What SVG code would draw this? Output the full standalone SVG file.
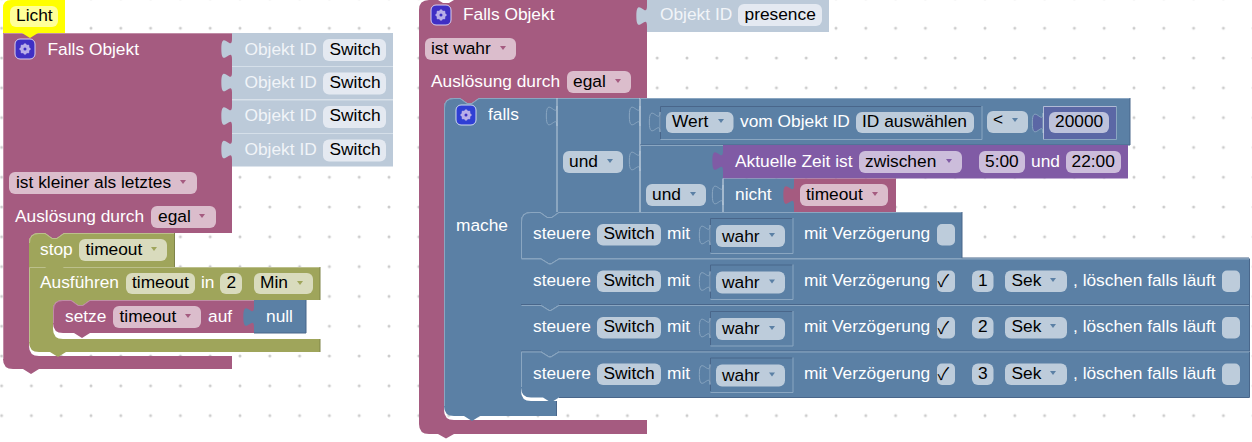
<svg xmlns="http://www.w3.org/2000/svg" width="1252" height="442" viewBox="0 0 1252 442">
<style>
text{font-family:"Liberation Sans",Arial,sans-serif;font-size:17.33px}
.w{fill:#fff}.d{fill:#000}.o{fill:#f1f4f8}
.ck{font-family:"Noto Sans CJK JP","DejaVu Sans",sans-serif;font-size:17px}
.red{fill:#a55b80}.grn{fill:#9fa55b}.blu{fill:#5b80a5}.pur{fill:#805ba5}.idx{fill:#bccad9}.num{fill:#5b67a5}
.fr{fill:#dbbdcc}.fg{fill:#d9dbbd}.fb{fill:#bdccdb}.fp{fill:#ccbddb}.fn{fill:#bdc2db}.fi{fill:#e4e9f1}.fy{fill:#ffff99}
.ar{fill:#a55b80}.ab{fill:#5b80a5}.ag{fill:#9fa55b}.ap{fill:#805ba5}
.ln{fill:none;stroke:#8aa6c1;stroke-width:1}.ll{fill:none;stroke:#d5dfe9;stroke-width:1}.dk{fill:none;stroke:#49668a;stroke-width:1}
.lr{fill:none;stroke:#c08ca6;stroke-width:1}.lg{fill:none;stroke:#bcc08c;stroke-width:1}.dg{fill:none;stroke:#7f8449;stroke-width:1}
</style>
<defs>
<pattern id="grid" width="29.8" height="29.8" patternUnits="userSpaceOnUse" x="1.6" y="-1.6"><circle cx="0" cy="0" r="1.5" fill="#ccc"/><circle cx="29.8" cy="0" r="1.5" fill="#ccc"/><circle cx="0" cy="29.8" r="1.5" fill="#ccc"/><circle cx="29.8" cy="29.8" r="1.5" fill="#ccc"/></pattern>
<path id="tab" d="M0,0c0,13.3 -10.67,-10.67 -10.67,10s10.67,-3.33 10.67,10z"/>
<path id="dn" d="M0,0l-3,-4h6z"/>
<g id="gear" transform="scale(.76)"><circle r="4.8" fill="none" stroke="#b9aee8" stroke-width="3"/><path d="M-1.4,-7.2h2.8v14.4h-2.8zM-7.2,-1.4h14.4v2.8h-14.4z" fill="#b9aee8" transform="rotate(45)"/><path d="M-1.4,-7.2h2.8v14.4h-2.8zM-7.2,-1.4h14.4v2.8h-14.4z" fill="#b9aee8"/><circle r="2" fill="#3f2fc4"/></g>
</defs>
<rect width="1252" height="442" fill="#fff"/>
<rect width="1252" height="442" fill="url(#grid)"/>

<g id="falls-objekt-1">
<path class="red" d="M3,33H232V233H64l-7,5h-5l-7,-5H39Q29,233 29,243V346Q29,356 39,356H232V369H39l-8,5-8,-5H13Q3,369 3,359z"/>
<path class="lr" d="M3.500,359V33.500H232"/>
<rect x="15" y="39" width="20" height="20" rx="5" fill="#3f2fc4" stroke="#d8cfee"/><use href="#gear" x="25" y="49"/>
<text class="w" x="47.500" y="55">Falls Objekt</text>
<rect class="fr" x="9" y="172" width="188" height="22" rx="6"/><text class="d" x="16" y="188">ist kleiner als letztes</text><use href="#dn" class="ar" x="183" y="184"/>
<text class="w" x="15" y="222">Auslösung durch</text>
<rect class="fr" x="151" y="206" width="65" height="22" rx="6"/><text class="d" x="158" y="222">egal</text><use href="#dn" class="ar" x="202" y="218"/>
</g>
<g id="licht"><path d="M3,33V8Q3,0 11,0H65V33H38l-8,5-8,-5z" fill="#ff0"/><rect class="fy" x="10" y="6" width="48" height="21" rx="6"/><text class="d" x="16" y="21">Licht</text></g>
<g id="objekt-1-1"><rect class="idx" x="232" y="33" width="161" height="33"/><use href="#tab" class="idx" x="232" y="39"/><text class="o" x="244.500" y="55">Objekt ID</text><rect class="fi" x="323" y="39" width="63" height="22" rx="6"/><text class="d" x="329.500" y="55">Switch</text></g>
<g id="objekt-1-2"><rect class="idx" x="232" y="66.500" width="161" height="33"/><path class="ll" d="M232,66.500H393"/><use href="#tab" class="idx" x="232" y="72.500"/><text class="o" x="244.500" y="88">Objekt ID</text><rect class="fi" x="323" y="72.500" width="63" height="22" rx="6"/><text class="d" x="329.500" y="88">Switch</text></g>
<g id="objekt-1-3"><rect class="idx" x="232" y="100" width="161" height="33"/><path class="ll" d="M232,100H393"/><use href="#tab" class="idx" x="232" y="106"/><text class="o" x="244.500" y="121">Objekt ID</text><rect class="fi" x="323" y="106" width="63" height="22" rx="6"/><text class="d" x="329.500" y="121">Switch</text></g>
<g id="objekt-1-4"><rect class="idx" x="232" y="133.500" width="161" height="33"/><path class="ll" d="M232,133.500H393"/><use href="#tab" class="idx" x="232" y="139.500"/><text class="o" x="244.500" y="155">Objekt ID</text><rect class="fi" x="323" y="139.500" width="63" height="22" rx="6"/><text class="d" x="329.500" y="155">Switch</text></g>

<g id="ausfuehren"><path class="grn" d="M29,267H320V300H90l-7,5h-5l-7,-5H63Q53,300 53,310V329Q53,339 63,339H320V352H66l-8,5-8,-5H39Q29,352 29,342z"/>
<path class="lg" d="M29.500,342V267.500H320"/><path class="dg" d="M320,267V300M320,339V352"/>
<text class="w" x="40" y="288">Ausführen</text><rect class="fg" x="126" y="273" width="69" height="21" rx="6"/><text class="d" x="132" y="288">timeout</text><text class="w" x="201" y="288">in</text><rect class="fg" x="220" y="273" width="22" height="21" rx="6"/><text class="d" x="226.500" y="288">2</text><rect class="fg" x="254" y="273" width="59" height="21" rx="6"/><text class="d" x="260" y="288">Min</text><use href="#dn" class="ag" x="300" y="285"/></g>
<g id="stop"><path class="grn" d="M29,267V243Q29,233 39,233H45l7,5h5l7,-5H174.500V267H64l-7,5h-5l-7,-5z"/><path class="lg" d="M29.500,243Q29.500,233.500 39,233.500H45l7,5h5l7,-5H174.500"/><path class="dg" d="M174.500,233V267"/><text class="w" x="40" y="255">stop</text><rect class="fg" x="79" y="239" width="88" height="22" rx="6"/><text class="d" x="85.500" y="255">timeout</text><use href="#dn" class="ag" x="154" y="251"/></g>
<g id="setze"><path class="red" d="M53,323V310Q53,300 63,300H71l7,5h5l7,-5H254V333H90l-8,5-8,-5H63Q53,333 53,323z"/><path class="lr" d="M53.500,323V310Q53.500,300.500 63,300.500H71l7,5h5l7,-5H254"/><text class="w" x="65" y="322">setze</text><rect class="fr" x="113" y="306" width="88" height="22" rx="6"/><text class="d" x="119.500" y="322">timeout</text><use href="#dn" class="ar" x="188" y="318"/><text class="w" x="208" y="322">auf</text></g>
<g id="null"><rect class="blu" x="254" y="300" width="52" height="33"/><use href="#tab" class="blu" x="254" y="307"/><path class="dk" d="M306,300V333H254"/><text class="w" x="266" y="322">null</text></g>

<g id="falls-objekt-2">
<path class="red" d="M419,10Q419,0 429,0H438l5,3h6l5,-3H647V98H479l-7,5h-5l-7,-5H454Q444,98 444,108V410Q444,420 454,420H647V434H454l-8,4.500-8,-4.500H429Q419,434 419,424z"/>
<rect x="431" y="5" width="20" height="20" rx="5" fill="#3f2fc4" stroke="#d8cfee"/><use href="#gear" x="441" y="15"/>
<text class="w" x="463" y="20">Falls Objekt</text>
<rect class="fr" x="425" y="38" width="91" height="22" rx="6"/><text class="d" x="431" y="54">ist wahr</text><use href="#dn" class="ar" x="503" y="50"/>
<text class="w" x="431" y="87">Auslösung durch</text>
<rect class="fr" x="567" y="71" width="64" height="22" rx="6"/><text class="d" x="573" y="87">egal</text><use href="#dn" class="ar" x="618" y="83"/>
</g>
<g id="objekt-2"><rect class="idx" x="647" y="0" width="182" height="32"/><use href="#tab" class="idx" x="647" y="6"/><text class="o" x="660" y="20">Objekt ID</text><rect class="fi" x="738" y="4" width="84" height="22" rx="6"/><text class="d" x="744.500" y="20">presence</text></g>

<g id="falls">
<path class="blu" d="M444,108Q444,98 454,98H460l7,5h5l7,-5H557V212H559l-7,5h-5l-7,-5H531Q521,212 521,222V391Q521,401 531,401H556.500V416H480l-8,5-8,-5H454Q444,416 444,406z"/>
<path class="ln" d="M444.500,406V108Q444.500,98.500 454,98.500H460l7,5h5l7,-5H557"/><path class="dk" d="M556.500,401V416"/>
<rect x="456" y="105" width="20" height="20" rx="5" fill="#2f3fd4" stroke="#d0daee"/><use href="#gear" x="466" y="115"/>
<text class="w" x="488" y="120">falls</text>
<text class="w" x="456" y="231">mache</text>
</g>
<g id="und-1"><rect class="blu" x="557" y="98" width="83" height="114"/><use href="#tab" class="blu" x="557" y="106"/><use href="#tab" class="ln" x="557" y="106"/><path class="ln" d="M557,98.500H640"/><path class="ll" d="M557,98V212" stroke-opacity=".8"/>
<rect class="fb" x="563" y="151" width="60" height="22" rx="6"/><text class="d" x="569" y="167">und</text><use href="#dn" class="ab" x="610" y="163"/></g>
<g id="vergleich"><rect class="blu" x="640" y="98" width="490" height="47"/><use href="#tab" class="blu" x="640" y="106"/><use href="#tab" class="ln" x="640" y="106"/><path class="ll" d="M640,98V145"/><path class="ln" d="M640,98.500H1130"/><path class="dk" d="M1130,98V145H640"/>
<path class="dk" d="M660.500,139V106.500H981.500"/><path class="ln" d="M660.500,139.500H982V106"/><use href="#tab" class="blu" x="660" y="112"/><use href="#tab" class="ln" x="660" y="112"/>
<rect class="fb" x="666" y="112" width="67.500" height="21" rx="6"/><text class="d" x="672" y="127">Wert</text><use href="#dn" class="ab" x="721" y="123"/>
<text class="w" x="740" y="127">vom Objekt ID</text>
<rect class="fb" x="856" y="112" width="118" height="21" rx="6"/><text class="d" x="862" y="127">ID auswählen</text>
<rect class="fb" x="987" y="111" width="41" height="22" rx="6"/><text class="d" x="993" y="124.500">&lt;</text><use href="#dn" class="ab" x="1015" y="122"/>
</g>
<g id="zahl"><rect class="num" x="1043" y="106" width="73" height="33"/><use href="#tab" class="num" x="1043" y="113"/><use href="#tab" class="ln" x="1043" y="113"/><path class="ll" d="M1043.500,139V106.500H1116" stroke-opacity=".7"/><path class="ln" d="M1043,139.500H1116.500V106"/>
<rect class="fn" x="1049" y="112" width="60" height="21" rx="6"/><text class="d" x="1055" y="127">20000</text></g>
<g id="und-2"><rect class="blu" x="640" y="145" width="83" height="67"/><use href="#tab" class="blu" x="640" y="151"/><use href="#tab" class="ln" x="640" y="151"/><path class="ll" d="M640,145V212"/><path class="ln" d="M640,145.500H723"/>
<rect class="fb" x="646" y="184" width="60" height="22" rx="6"/><text class="d" x="652" y="200">und</text><use href="#dn" class="ab" x="693" y="196"/></g>
<g id="zeit"><rect class="pur" x="723" y="145" width="405" height="33.500"/><use href="#tab" class="pur" x="723" y="151"/>
<text class="w" x="735" y="167">Aktuelle Zeit ist</text>
<rect class="fp" x="859" y="151" width="103" height="22" rx="6"/><text class="d" x="865" y="167">zwischen</text><use href="#dn" class="ap" x="949" y="163"/>
<rect class="fp" x="979" y="151" width="46" height="22" rx="6"/><text class="d" x="985" y="167">5:00</text><text class="w" x="1031" y="167">und</text>
<rect class="fp" x="1066" y="151" width="55" height="22" rx="6"/><text class="d" x="1071.500" y="167">22:00</text></g>
<g id="nicht"><rect class="blu" x="723" y="178.500" width="71" height="33.500"/><use href="#tab" class="blu" x="723" y="185"/><use href="#tab" class="ln" x="723" y="185"/><path class="ll" d="M723,178.500V212"/><text class="w" x="735" y="200">nicht</text></g>
<g id="timeout"><rect class="red" x="794" y="178.500" width="102" height="33.500"/><use href="#tab" class="red" x="794" y="185"/><rect class="fr" x="800" y="184" width="88" height="22" rx="6"/><text class="d" x="806" y="200">timeout</text><use href="#dn" class="ar" x="875" y="196"/></g>

<g id="steuere-1"><path class="blu" d="M521,258.500V222Q521,212 531,212H540l7,5h5l7,-5H962V258.500H559l-8,5h-2l-8,-5z"/><path class="ln" d="M521.500,258V222Q521.500,212.500 531,212.500H540l7,5h5l7,-5H962"/><path class="dk" d="M962,212V258.500"/>
<text class="w" x="533" y="239">steuere</text><rect class="fb" x="597" y="224" width="64" height="21.500" rx="6"/><text class="d" x="603.500" y="239">Switch</text><text class="w" x="667" y="239">mit</text>
<path class="dk" d="M710.500,252V218.500H792.500"/><path class="ln" d="M710.500,253.500H793V218"/><use href="#tab" class="blu" x="710" y="225"/><use href="#tab" class="ln" x="710" y="225"/><rect class="fb" x="716" y="225" width="69" height="22" rx="6"/><text class="d" x="722" y="241.500">wahr</text><use href="#dn" class="ab" x="772" y="237"/>
<text class="w" x="804" y="239">mit Verzögerung</text><rect class="fb" x="937" y="224" width="18" height="21.500" rx="5"/></g>
<g id="steuere-2"><path class="blu" d="M521,305V258.500H541l8,5h2l8,-5H1249V305H559l-8,5h-2l-8,-5z"/><path class="dk" d="M962,258H1249"/><path class="ln" d="M521.500,259H541l8,5h2l8,-5H1249"/><path class="dk" d="M1249.500,258.500V305"/>
<text class="w" x="533" y="286">steuere</text><rect class="fb" x="597" y="270.500" width="64" height="21.500" rx="6"/><text class="d" x="603.500" y="286">Switch</text><text class="w" x="667" y="286">mit</text>
<path class="dk" d="M710.500,298V265H792.500"/><path class="ln" d="M710.500,299.500H793V264.500"/><use href="#tab" class="blu" x="710" y="271.500"/><use href="#tab" class="ln" x="710" y="271.500"/><rect class="fb" x="716" y="271.500" width="69" height="22" rx="6"/><text class="d" x="722" y="287.500">wahr</text><use href="#dn" class="ab" x="772" y="283.500"/>
<text class="w" x="804" y="286">mit Verzögerung</text><rect class="fb" x="937" y="270.500" width="18" height="21.500" rx="5"/><text class="d ck" x="937.500" y="287">✓</text><rect class="fb" x="972" y="270.500" width="21.500" height="21.500" rx="6"/><text class="d" x="982.700" y="286" text-anchor="middle">1</text><rect class="fb" x="1005" y="270.500" width="62" height="21.500" rx="6"/><text class="d" x="1011.500" y="286">Sek</text><use href="#dn" class="ab" x="1053" y="282"/><text class="w" x="1073" y="286">, löschen falls läuft</text><rect class="fb" x="1222" y="270.500" width="18" height="21.500" rx="5"/></g>
<g id="steuere-3"><path class="blu" d="M521,351.500V305H541l8,5h2l8,-5H1249V351.500H559l-8,5h-2l-8,-5z"/><path class="dk" d="M521,304.500H541M559,304.500H1249"/><path class="ln" d="M521.500,305.500H541l8,5h2l8,-5H1249"/><path class="dk" d="M1249.500,305V351.500"/>
<text class="w" x="533" y="332">steuere</text><rect class="fb" x="597" y="317" width="64" height="21.500" rx="6"/><text class="d" x="603.500" y="332">Switch</text><text class="w" x="667" y="332">mit</text>
<path class="dk" d="M710.500,345V311.500H792.500"/><path class="ln" d="M710.500,346H793V311"/><use href="#tab" class="blu" x="710" y="318"/><use href="#tab" class="ln" x="710" y="318"/><rect class="fb" x="716" y="318" width="69" height="22" rx="6"/><text class="d" x="722" y="334">wahr</text><use href="#dn" class="ab" x="772" y="330"/>
<text class="w" x="804" y="332">mit Verzögerung</text><rect class="fb" x="937" y="317" width="18" height="21.500" rx="5"/><text class="d ck" x="937.500" y="333.500">✓</text><rect class="fb" x="972" y="317" width="21.500" height="21.500" rx="6"/><text class="d" x="982.700" y="332" text-anchor="middle">2</text><rect class="fb" x="1005" y="317" width="62" height="21.500" rx="6"/><text class="d" x="1011.500" y="332">Sek</text><use href="#dn" class="ab" x="1053" y="328"/><text class="w" x="1073" y="332">, löschen falls läuft</text><rect class="fb" x="1222" y="317" width="18" height="21.500" rx="5"/></g>
<g id="steuere-4"><path class="blu" d="M521,351.500H541l8,5h2l8,-5H1249V397.500H559l-8,5-8,-5H531Q521,397.500 521,387.500z"/><path class="dk" d="M521,351H541M559,351H1249"/><path class="ln" d="M521.500,387V352H541l8,5h2l8,-5H1249"/><path class="dk" d="M1249.500,351.500V397.500H559"/>
<text class="w" x="533" y="379">steuere</text><rect class="fb" x="597" y="363.500" width="64" height="21.500" rx="6"/><text class="d" x="603.500" y="379">Switch</text><text class="w" x="667" y="379">mit</text>
<path class="dk" d="M710.500,391V358H792.500"/><path class="ln" d="M710.500,392.500H793V357.500"/><use href="#tab" class="blu" x="710" y="364.500"/><use href="#tab" class="ln" x="710" y="364.500"/><rect class="fb" x="716" y="364.500" width="69" height="22" rx="6"/><text class="d" x="722" y="380.500">wahr</text><use href="#dn" class="ab" x="772" y="376.500"/>
<text class="w" x="804" y="379">mit Verzögerung</text><rect class="fb" x="937" y="363.500" width="18" height="21.500" rx="5"/><text class="d ck" x="937.500" y="380">✓</text><rect class="fb" x="972" y="363.500" width="21.500" height="21.500" rx="6"/><text class="d" x="982.700" y="379" text-anchor="middle">3</text><rect class="fb" x="1005" y="363.500" width="62" height="21.500" rx="6"/><text class="d" x="1011.500" y="379">Sek</text><use href="#dn" class="ab" x="1053" y="375"/><text class="w" x="1073" y="379">, löschen falls läuft</text><rect class="fb" x="1222" y="363.500" width="18" height="21.500" rx="5"/></g>
</svg>
